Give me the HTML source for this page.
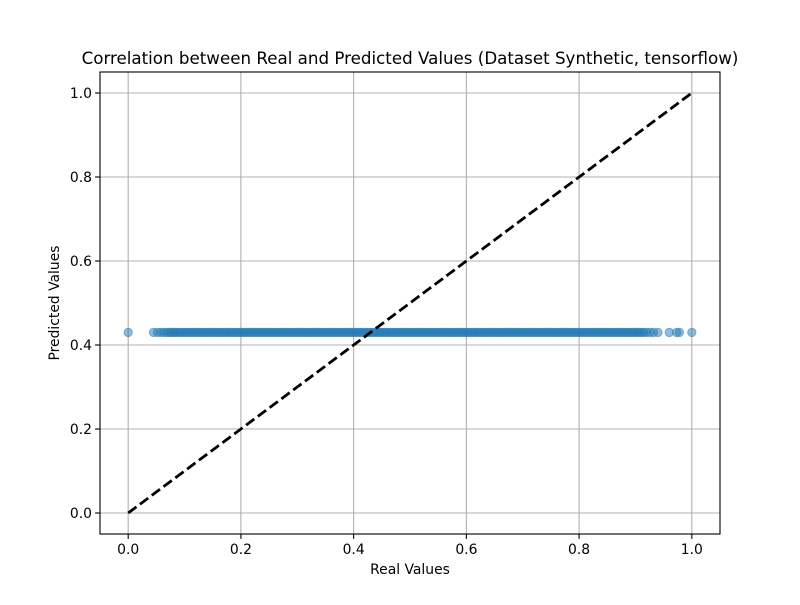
<!DOCTYPE html>
<html><head><meta charset="utf-8"><style>
body{margin:0;background:#fff;}
svg text{font-family:"DejaVu Sans","Liberation Sans",sans-serif;}
</style></head><body>
<svg id="chart" width="800" height="600" xmlns="http://www.w3.org/2000/svg">
<rect width="800" height="600" fill="#fff"/>
<g id="grid"></g>
<g id="points"></g>
<g id="line"></g>
<rect x="100" y="72" width="620" height="462" fill="none" stroke="#000" stroke-width="1.1"/>
<g id="ticks"></g>
<text x="410" y="64" font-size="16.7" text-anchor="middle">Correlation between Real and Predicted Values (Dataset Synthetic, tensorflow)</text>
<text x="410" y="574" font-size="13.9" text-anchor="middle">Real Values</text>
<text x="59" y="303" font-size="13.9" text-anchor="middle" transform="rotate(-90 59 303)">Predicted Values</text>
</svg>
<script>
const xTicks=[0,0.2,0.4,0.6,0.8,1.0];
const yTicks=[0,0.2,0.4,0.6,0.8,1.0];
const xTickLabels=["0.0","0.2","0.4","0.6","0.8","1.0"];
const yTickLabels=["0.0","0.2","0.4","0.6","0.8","1.0"];
const realValues=[0,0.045,0.052,0.058,0.063,0.068,0.072,0.076,0.08,0.083,0.087,0.091,0.095,0.099,0.103,0.107,0.111,0.115,0.119,0.123,0.127,0.131,0.135,0.139,0.143,0.147,0.151,0.155,0.159,0.163,0.167,0.171,0.175,0.179,0.183,0.187,0.191,0.195,0.199,0.203,0.207,0.211,0.215,0.219,0.223,0.227,0.231,0.235,0.239,0.243,0.247,0.251,0.255,0.259,0.263,0.267,0.271,0.275,0.279,0.283,0.287,0.291,0.295,0.299,0.303,0.307,0.311,0.315,0.319,0.323,0.327,0.331,0.335,0.339,0.343,0.347,0.351,0.355,0.359,0.363,0.367,0.371,0.375,0.379,0.383,0.387,0.391,0.395,0.399,0.403,0.407,0.411,0.415,0.419,0.423,0.427,0.431,0.435,0.439,0.443,0.447,0.451,0.455,0.459,0.463,0.467,0.471,0.475,0.479,0.483,0.487,0.491,0.495,0.499,0.503,0.507,0.511,0.515,0.519,0.523,0.527,0.531,0.535,0.539,0.543,0.547,0.551,0.555,0.559,0.563,0.567,0.571,0.575,0.579,0.583,0.587,0.591,0.595,0.599,0.603,0.607,0.611,0.615,0.619,0.623,0.627,0.631,0.635,0.639,0.643,0.647,0.651,0.655,0.659,0.663,0.667,0.671,0.675,0.679,0.683,0.687,0.691,0.695,0.699,0.703,0.707,0.711,0.715,0.719,0.723,0.727,0.731,0.735,0.739,0.743,0.747,0.751,0.755,0.759,0.763,0.767,0.771,0.775,0.779,0.783,0.787,0.791,0.795,0.799,0.803,0.807,0.811,0.815,0.819,0.823,0.827,0.831,0.835,0.839,0.843,0.847,0.851,0.855,0.859,0.863,0.867,0.871,0.875,0.879,0.883,0.887,0.891,0.895,0.899,0.903,0.907,0.911,0.915,0.92,0.926,0.932,0.94,0.96,0.973,0.978,1.0];
const predictedValues=realValues.map(()=>0.43);
const lineX=[0,1];
const lineY=[0,1];
const NS="http://www.w3.org/2000/svg";
const L=100,R=720,T=72,B=534,min=-0.05,max=1.05;
const sx=v=>L+(v-min)/(max-min)*(R-L);
const sy=v=>B-(v-min)/(max-min)*(B-T);
function mk(t,a,p){const e=document.createElementNS(NS,t);for(const k in a)e.setAttribute(k,a[k]);p.appendChild(e);return e;}
const grid=document.getElementById('grid'),ticks=document.getElementById('ticks');
xTicks.forEach((v,i)=>{
 const g=mk('line',{x1:sx(v),x2:sx(v),y1:T,y2:B,stroke:'#b0b0b0','stroke-width':1.1},grid);
 
 
 mk('line',{x1:sx(v),x2:sx(v),y1:B,y2:B+4.9,stroke:'#000','stroke-width':1.1},ticks);
 const t=mk('text',{x:sx(v),y:B+20,'font-size':13.9,'text-anchor':'middle'},ticks);
 t.textContent=xTickLabels[i];
 
 
});
yTicks.forEach((v,i)=>{
 const g=mk('line',{x1:L,x2:R,y1:sy(v),y2:sy(v),stroke:'#b0b0b0','stroke-width':1.1},grid);
 
 
 mk('line',{x1:L-4.9,x2:L,y1:sy(v),y2:sy(v),stroke:'#000','stroke-width':1.1},ticks);
 const t=mk('text',{x:L-8,y:sy(v)+5,'font-size':13.9,'text-anchor':'end'},ticks);
 t.textContent=yTickLabels[i];
 
 
});
const pts=document.getElementById('points');
realValues.forEach((v,i)=>{
 const c=mk('circle',{cx:sx(v),cy:sy(predictedValues[i]),r:4.2,fill:'#1f77b4','fill-opacity':0.5,stroke:'#1f77b4','stroke-opacity':0.5},pts);
 
 
});
const ln=mk('line',{x1:sx(lineX[0]),y1:sy(lineY[0]),x2:sx(lineX[1]),y2:sy(lineY[1]),stroke:'#000','stroke-width':2.8,'stroke-dasharray':'10.3,4.4'},document.getElementById('line'));


</script>
</body></html>
